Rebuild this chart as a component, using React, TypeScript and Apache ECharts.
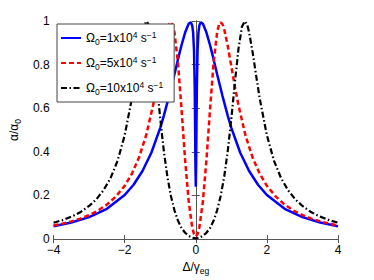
import React, { useEffect, useRef } from "react";
import * as echarts from "echarts";

const blueX = [-4, -3.5, -3, -2.5, -2, -1.75, -1.5, -1.25, -1, -0.9, -0.75, -0.6, -0.5, -0.4, -0.3, -0.2, -0.14, -0.1, -0.075, -0.05, -0.03, -0.02, -0.01, 0, 0.01, 0.02, 0.03, 0.05, 0.075, 0.1, 0.14, 0.2, 0.3, 0.4, 0.5, 0.6, 0.75, 0.9, 1, 1.25, 1.5, 1.75, 2, 2.5, 3, 3.5, 4];
const blueY = [0.059, 0.076, 0.101, 0.139, 0.202, 0.249, 0.312, 0.396, 0.51, 0.565, 0.657, 0.756, 0.825, 0.89, 0.947, 0.987, 0.994, 0.979, 0.948, 0.866, 0.692, 0.533, 0.342, 0.24, 0.342, 0.533, 0.692, 0.866, 0.948, 0.979, 0.994, 0.987, 0.947, 0.89, 0.825, 0.756, 0.657, 0.565, 0.51, 0.396, 0.312, 0.249, 0.202, 0.139, 0.101, 0.076, 0.059];

const redX = [-4, -3.75, -3.5, -3.25, -3, -2.75, -2.5, -2.25, -2, -1.8, -1.6, -1.4, -1.2, -1.1, -1, -0.9, -0.8, -0.75, -0.7, -0.65, -0.6, -0.5, -0.4, -0.3, -0.2, -0.1, -0.05, 0, 0.05, 0.1, 0.2, 0.3, 0.4, 0.5, 0.6, 0.65, 0.7, 0.75, 0.8, 0.9, 1, 1.1, 1.2, 1.4, 1.6, 1.8, 2, 2.25, 2.5, 2.75, 3, 3.25, 3.5, 3.75, 4];
const redY = [0.062, 0.071, 0.081, 0.094, 0.11, 0.131, 0.158, 0.195, 0.244, 0.299, 0.373, 0.474, 0.614, 0.699, 0.792, 0.885, 0.962, 0.986, 0.994, 0.982, 0.948, 0.807, 0.593, 0.363, 0.173, 0.053, 0.023, 0.012, 0.023, 0.053, 0.173, 0.363, 0.593, 0.807, 0.948, 0.982, 0.994, 0.986, 0.962, 0.885, 0.792, 0.699, 0.614, 0.474, 0.373, 0.299, 0.244, 0.195, 0.158, 0.131, 0.11, 0.094, 0.081, 0.071, 0.062];

const blackX = [-4, -3.75, -3.5, -3.25, -3, -2.8, -2.6, -2.4, -2.2, -2, -1.8, -1.7, -1.6, -1.5, -1.45, -1.38, -1.3, -1.2, -1.1, -1, -0.9, -0.8, -0.7, -0.6, -0.5, -0.4, -0.3, -0.2, -0.1, 0, 0.1, 0.2, 0.3, 0.4, 0.5, 0.6, 0.7, 0.8, 0.9, 1, 1.1, 1.2, 1.3, 1.38, 1.45, 1.5, 1.6, 1.7, 1.8, 2, 2.2, 2.4, 2.6, 2.8, 3, 3.25, 3.5, 3.75, 4];
const blackY = [0.075, 0.087, 0.103, 0.123, 0.152, 0.182, 0.223, 0.279, 0.359, 0.476, 0.643, 0.747, 0.855, 0.948, 0.981, 0.999, 0.975, 0.872, 0.718, 0.553, 0.405, 0.287, 0.198, 0.132, 0.084, 0.05, 0.029, 0.015, 0.006, 0.003, 0.006, 0.015, 0.029, 0.05, 0.084, 0.132, 0.198, 0.287, 0.405, 0.553, 0.718, 0.872, 0.975, 0.999, 0.981, 0.948, 0.855, 0.747, 0.643, 0.476, 0.359, 0.279, 0.223, 0.182, 0.152, 0.123, 0.103, 0.087, 0.075];

const seriesNames = ["Ω0=1x10^4 s^-1", "Ω0=5x10^4 s^-1", "Ω0=10x10^4 s^-1"];
const legendLabels = [
  "{n|Ω}{sub|0}{n|=1x10}{sup|4}{n| s}{sup|−1}",
  "{n|Ω}{sub|0}{n|=5x10}{sup|4}{n| s}{sup|−1}",
  "{n|Ω}{sub|0}{n|=10x10}{sup|4}{n| s}{sup|−1}",
];
const xTicks = [-4, -2, 0, 2, 4];
const yTicks = [0, 0.2, 0.4, 0.6, 0.8, 1];

const FONT = "Liberation Sans, Arial, Helvetica, sans-serif";
const AX = "#555555";

function zip(xs: number[], ys: number[]) {
  return xs.map((x, i) => [x, ys[i]]);
}

export default function App() {
  const ref = useRef<HTMLDivElement>(null);
  useEffect(() => {
    if (!ref.current) return;
    const chart = echarts.init(ref.current, undefined, { renderer: "svg" });
    const axisCommon = {
      axisLine: { show: true, lineStyle: { color: AX, width: 1 } },
      axisTick: { show: true, inside: true, length: 4, lineStyle: { color: AX, width: 1 } },
      splitLine: { show: false },
    };
    const rich = {
      n: { fontSize: 12, fontFamily: FONT, color: "#000", lineHeight: 16 },
      sub: { fontSize: 8.5, fontFamily: FONT, color: "#000", lineHeight: 9, verticalAlign: "bottom" },
      sup: { fontSize: 8.5, fontFamily: FONT, color: "#000", lineHeight: 9, verticalAlign: "top" },
    };
    chart.setOption({
      animation: false,
      backgroundColor: "#ffffff",
      grid: { left: 48, top: 21, width: 290, height: 227, containLabel: false },
      legend: {
        data: seriesNames,
        orient: "vertical",
        left: 57,
        top: 24,
        padding: [6, 11, 6, 3],
        itemGap: 9,
        itemWidth: 20,
        itemHeight: 12,
        backgroundColor: "#ffffff",
        borderColor: "#444444",
        borderWidth: 1,
        borderRadius: 0,
        itemStyle: { color: "transparent", borderColor: "transparent", borderWidth: 0, opacity: 0 },
        formatter: (name: string) => legendLabels[seriesNames.indexOf(name)],
        textStyle: { fontFamily: FONT, fontSize: 12, color: "#000", rich },
      },
      xAxis: [
        {
          type: "value",
          min: -4,
          max: 4,
          interval: 2,
          position: "bottom",
          ...axisCommon,
          axisLabel: {
            show: true,
            margin: 5,
            color: "#000",
            fontSize: 12,
            fontFamily: FONT,
            formatter: (v: number) => (xTicks.includes(v) ? String(v).replace("-", "−") : ""),
          },
          name: "{n|Δ/γ}{sub|eg}",
          nameLocation: "middle",
          nameGap: 17,
          nameTextStyle: { fontFamily: FONT, fontSize: 12, color: "#000", rich },
        },
        {
          type: "value",
          min: -4,
          max: 4,
          interval: 2,
          position: "top",
          ...axisCommon,
          axisLabel: { show: false },
        },
      ],
      yAxis: [
        {
          type: "value",
          min: 0,
          max: 1,
          interval: 0.2,
          position: "left",
          ...axisCommon,
          axisLabel: {
            show: true,
            margin: 4,
            color: "#000",
            fontSize: 12,
            fontFamily: FONT,
            formatter: (v: number) => {
              const t = yTicks.find((k) => Math.abs(k - v) < 1e-6);
              return t === undefined ? "" : String(t);
            },
          },
          name: "{n|α/α}{sub|0}",
          nameLocation: "middle",
          nameRotate: 90,
          nameGap: 20,
          nameTextStyle: { fontFamily: FONT, fontSize: 12, color: "#000", rich },
        },
        {
          type: "value",
          min: 0,
          max: 1,
          interval: 0.2,
          position: "right",
          ...axisCommon,
          axisLabel: { show: false },
        },
      ],
      series: [
        {
          name: seriesNames[0],
          type: "line",
          xAxisIndex: 0,
          yAxisIndex: 0,
          data: zip(blueX, blueY),
          showSymbol: false,
          symbol: "none",
          clip: true,
          lineStyle: { color: "#0000ff", width: 2.5, type: "solid" },
          itemStyle: { color: "#0000ff" },
        },
        {
          name: seriesNames[1],
          type: "line",
          xAxisIndex: 0,
          yAxisIndex: 0,
          data: zip(redX, redY),
          showSymbol: false,
          symbol: "none",
          clip: true,
          lineStyle: { color: "#ff0000", width: 2.5, type: [5, 3] },
          itemStyle: { color: "#ff0000" },
        },
        {
          name: seriesNames[2],
          type: "line",
          xAxisIndex: 0,
          yAxisIndex: 0,
          data: zip(blackX, blackY),
          showSymbol: false,
          symbol: "none",
          clip: true,
          lineStyle: { color: "#000000", width: 2.2, type: [6, 2.5, 1.5, 2.5] },
          itemStyle: { color: "#000000" },
        },
      ],
    });
    return () => chart.dispose();
  }, []);
  return (
    <div
      ref={ref}
      style={{ position: "absolute", left: 0, top: 0, width: 374, height: 280 }}
    />
  );
}
